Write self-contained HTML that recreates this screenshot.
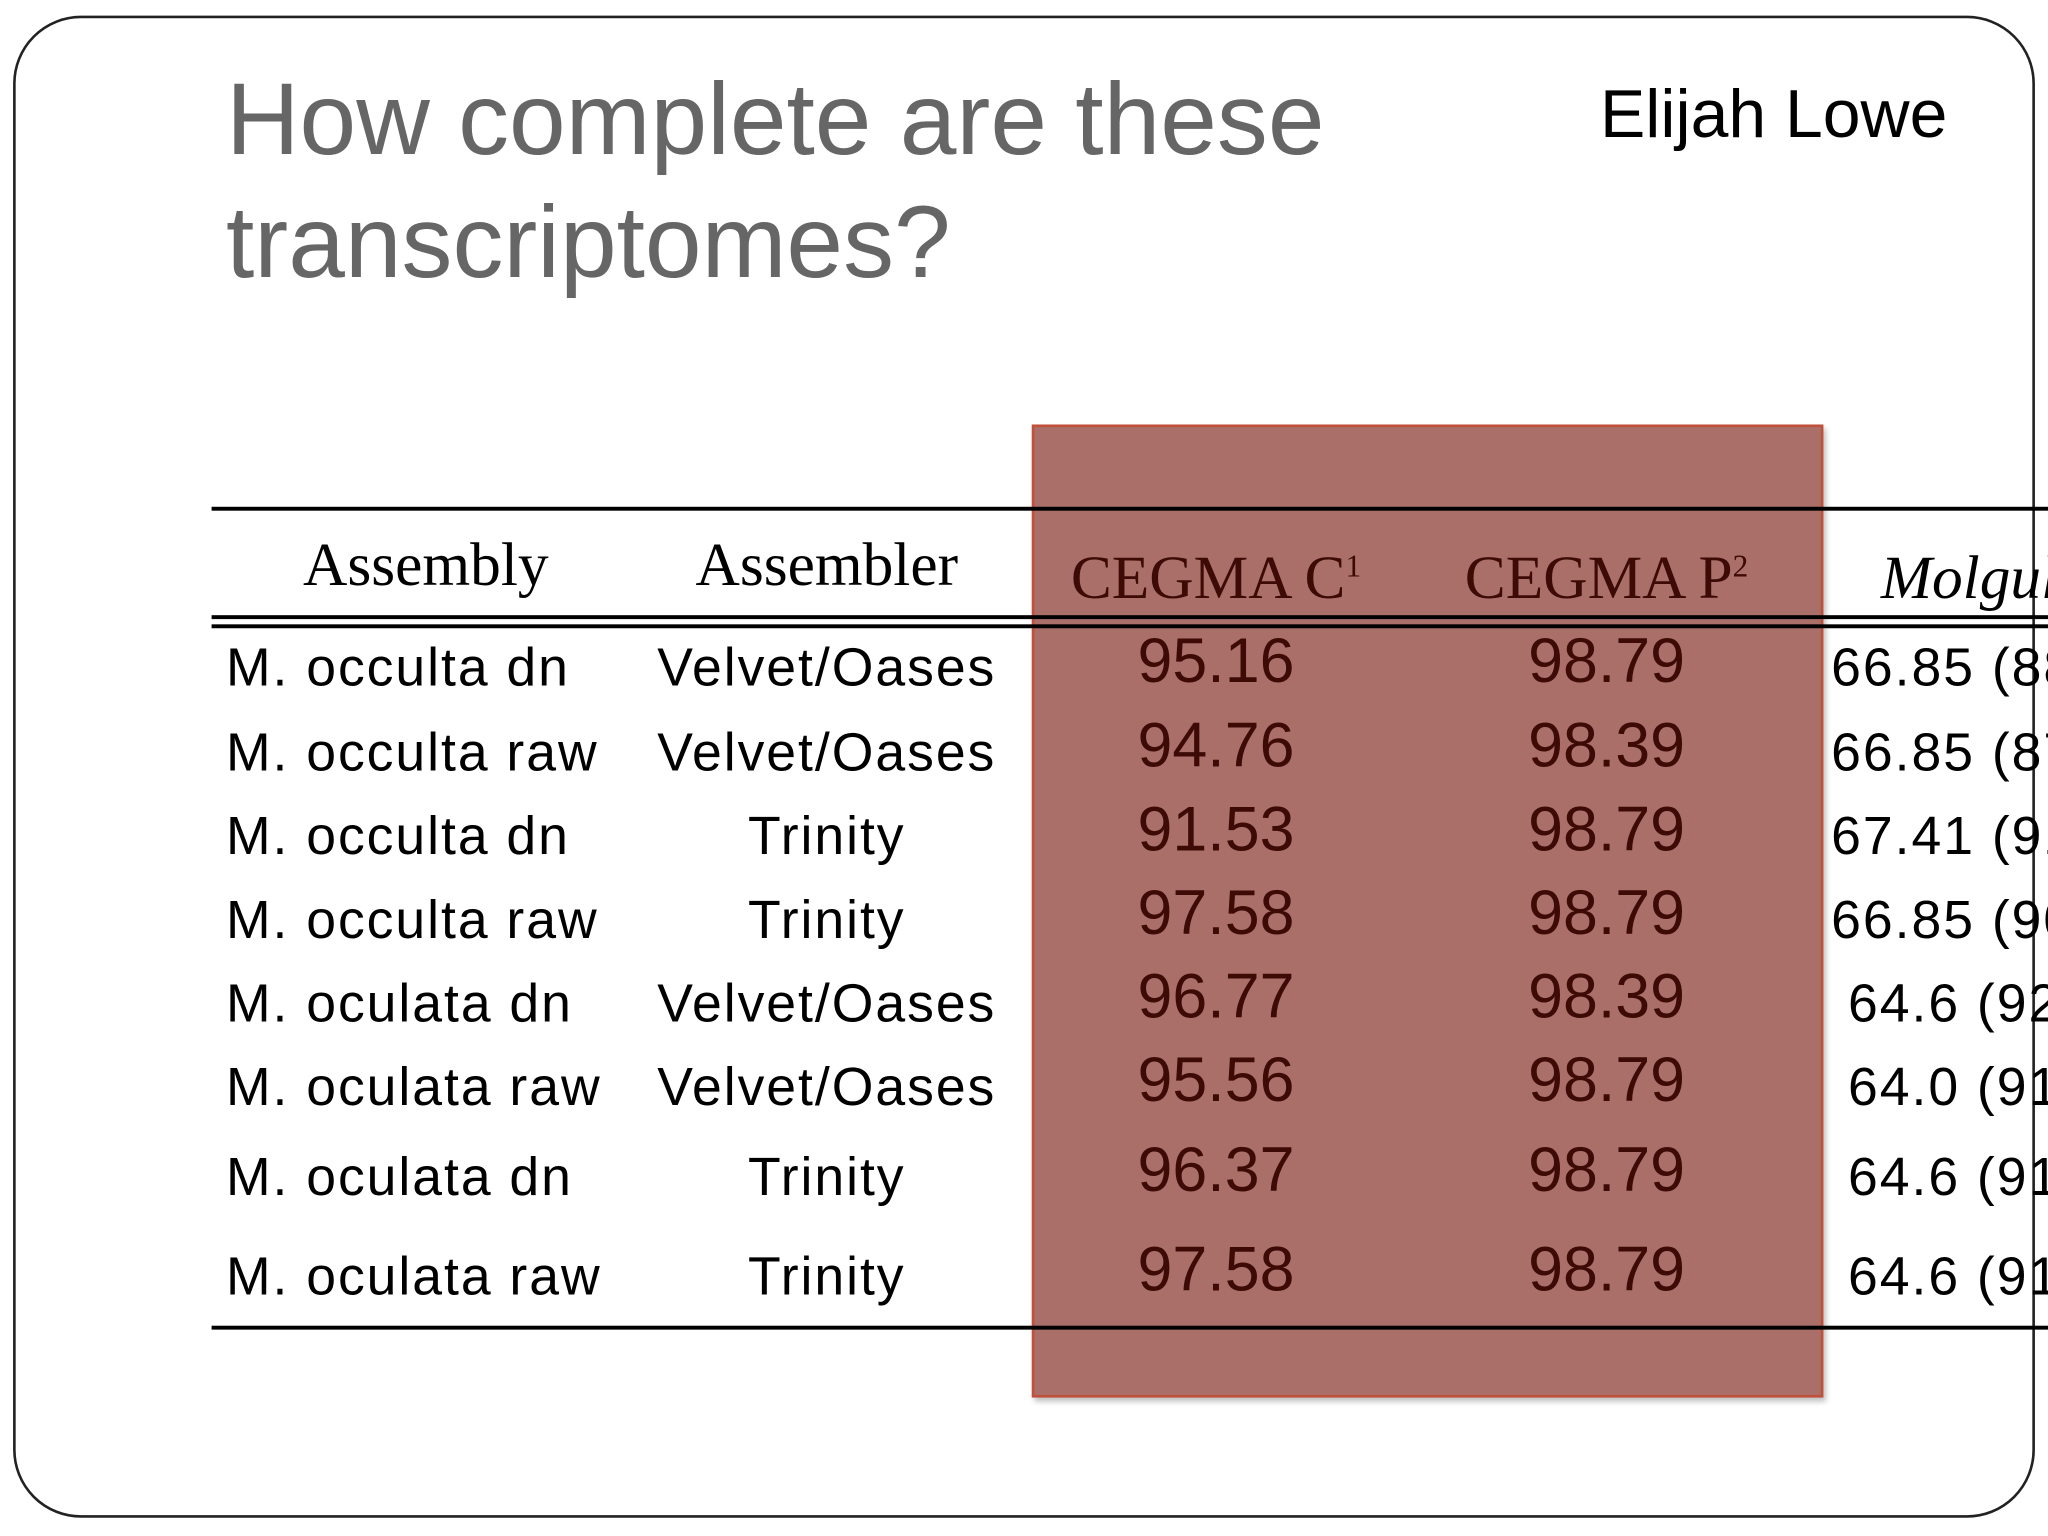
<!DOCTYPE html>
<html><head><meta charset="utf-8"><style>
html,body{margin:0;padding:0;background:#fff;overflow:hidden}
#stage{position:absolute;left:0;top:0;width:1568px;height:1176px;transform:scale(1.30612);transform-origin:0 0;font-family:"Liberation Sans",sans-serif}
.abs{position:absolute;white-space:nowrap}
.line{position:absolute;background:#000;height:3px}
.row{position:absolute;font-size:41px;letter-spacing:1.5px;color:#000}
.num{position:absolute;font-size:48px;color:#3d0a06;transform:translateX(-50%)}
.hdr{position:absolute;font-family:"Liberation Serif",serif;font-size:47px;color:#000;transform:translateX(-50%)}
</style></head><body>
<div id="stage">
<div class="abs" style="left:10px;top:12px;width:1544px;height:1146px;border:2px solid #222;border-radius:52px"></div>
<div class="abs" style="left:173px;top:44px;font-size:78px;line-height:94px;color:#666">How complete are these<br>transcriptomes?</div>
<div class="abs" style="left:1225px;top:58px;font-size:52px;color:#000">Elijah Lowe</div>
<div class="abs" style="left:790px;top:325px;width:606px;height:745px;background:#aa6f68;border:2px solid #c0503a;box-sizing:border-box;box-shadow:2px 3px 4px rgba(0,0,0,.25)"></div>
<div id="table"></div>
</div>
<script>
const assemblies=["M. occulta dn","M. occulta raw","M. occulta dn","M. occulta raw","M. oculata dn","M. oculata raw","M. oculata dn","M. oculata raw"];
const assemblers=["Velvet/Oases","Velvet/Oases","Trinity","Trinity","Velvet/Oases","Velvet/Oases","Trinity","Trinity"];
const cegmaC=["95.16","94.76","91.53","97.58","96.77","95.56","96.37","97.58"];
const cegmaP=["98.79","98.39","98.79","98.79","98.39","98.79","98.79","98.79"];
const molgula=["66.85 (88","66.85 (87","67.41 (91","66.85 (90"," 64.6 (92"," 64.0 (91"," 64.6 (91"," 64.6 (91"];
const rowY=[513,578,642,706,770,834,903,979];
const t=document.getElementById('table');
function add(cls,txt,x,y,name){const d=document.createElement('div');d.className=cls;d.textContent=txt;d.style.left=x+'px';d.style.top=y+'px';


t.appendChild(d);return d;}
function line(y,h,name,col){const d=document.createElement('div');d.className='line';d.style.left='162px';d.style.width='1406px';d.style.top=y+'px';d.style.height=h+'px';if(col)d.style.background=col;


t.appendChild(d);}
line(388,3,'table-top-rule','#000');
line(471,3,'header-rule-1','#000');
line(478,3,'header-rule-2','#000');
line(1015,3,'table-bottom-rule','#000');
add('hdr','Assembly',326,406,'header-assembly');
add('hdr','Assembler',633,406,'header-assembler');
const hc=add('hdr','',931,416,'header-cegma-c');hc.style.color='#3d0a06';hc.innerHTML='CEGMA C<sup style="font-size:24px">1</sup>';
const hp=add('hdr','',1230,416,'header-cegma-p');hp.style.color='#3d0a06';hp.innerHTML='CEGMA P<sup style="font-size:24px">2</sup>';
const hm=add('hdr','Molgula',1440,416,'header-molgula');hm.style.transform='none';hm.style.fontStyle='italic';
for(let i=0;i<rowY.length;i++){
 const y=rowY[i]-25;
 add('row',assemblies[i],173,y,'assembly-cell');
 const a=add('row',assemblers[i],633,y,'assembler-cell');a.style.transform='translateX(-50%)';
 add('num',cegmaC[i],931,y-9,'cegma-c-value');
 add('num',cegmaP[i],1230,y-9,'cegma-p-value');
 const m=add('row',molgula[i],1402,y,'molgula-cell');m.style.whiteSpace='pre';
}
</script>
</body></html>
